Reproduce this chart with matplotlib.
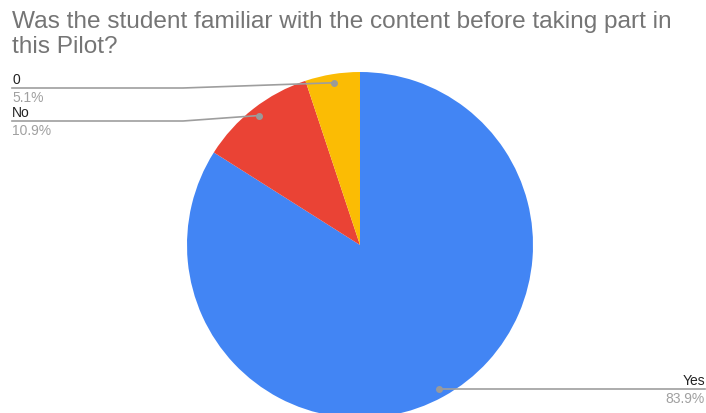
import numpy as np
import matplotlib
matplotlib.use("Agg")
import matplotlib.pyplot as plt

plt.rcParams['font.family'] = ['Liberation Sans', 'DejaVu Sans']

labels = ['Yes', 'No', '0']
shares = [83.9, 10.9, 5.1]
colors = ['#4285F4', '#EA4335', '#FBBC04']

W, H = 706, 414
fig = plt.figure(figsize=(W / 100, H / 100), dpi=100)
ax = fig.add_axes([0, 0, 1, 1])

cx, cy, r = 360, H - 246, 173
wedges, _ = ax.pie(shares, colors=colors, startangle=90, counterclock=False,
                   center=(cx, cy), radius=r, frame=True,
                   wedgeprops=dict(linewidth=0))
ax.set_xlim(0, W)
ax.set_ylim(0, H)
ax.set_aspect('equal')
ax.axis('off')

ax.text(12, H - 28, 'Was the student familiar with the content before taking part in',
        ha='left', va='baseline', fontsize=17.6, color='#757575')
ax.text(12, H - 53, 'this Pilot?',
        ha='left', va='baseline', fontsize=17.6, color='#757575')

# y of each leader's horizontal run and which side its label sits on
rows = {'0': (H - 89, 'left'), 'No': (H - 122, 'left'), 'Yes': (H - 388, 'right')}
line_c = '#9e9e9e'
for w, lab, val in zip(wedges, labels, shares):
    mid = np.deg2rad((w.theta1 + w.theta2) / 2)
    dx, dy = cx + 0.95 * r * np.cos(mid), cy + 0.95 * r * np.sin(mid)
    ly, side = rows[lab]
    ax.plot([dx], [dy], 'o', ms=4, color='#9a9a9a', zorder=5)
    if side == 'left':
        ax.plot([12, 183, dx], [ly, ly, dy], color=line_c, lw=1.2, zorder=4)
        tx, ha = 12, 'left'
    else:
        ly = dy
        ax.plot([dx, 705], [ly, ly], color=line_c, lw=1.2, zorder=4)
        tx, ha = 705, 'right'
    ax.text(tx, ly + 5, lab, ha=ha, va='baseline', fontsize=10, color='#222222')
    ax.text(tx, ly - 13, f'{val}%', ha=ha, va='baseline', fontsize=10, color='#a0a0a0')

fig.savefig('out.png', dpi=100, facecolor='white')
